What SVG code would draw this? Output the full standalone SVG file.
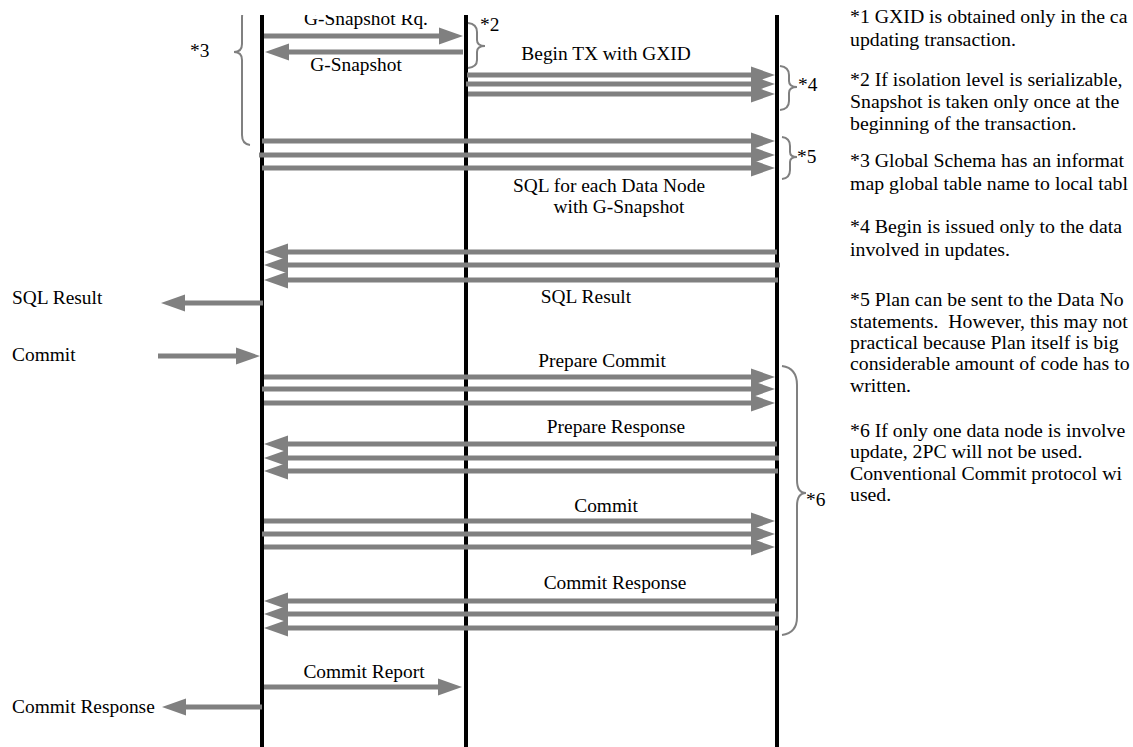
<svg xmlns="http://www.w3.org/2000/svg" width="1133" height="747" viewBox="0 0 1133 747">
<style>
.t{font-family:"Liberation Serif","Times New Roman",serif;font-size:19.4px;fill:#000}
.n{font-family:"Liberation Serif","Times New Roman",serif;font-size:19.8px;fill:#000}
.m{text-anchor:middle}
.ll{stroke:#000;stroke-width:4}
.a{stroke:#808080;stroke-width:5;fill:none;marker-end:url(#ah)}
.b{stroke:#808080;stroke-width:2;fill:none}
</style>
<defs>
<marker id="ah" markerUnits="userSpaceOnUse" markerWidth="24" markerHeight="17" refX="2" refY="8.5" orient="auto" viewBox="0 0 24 17" overflow="visible">
<path d="M0,0 L24,8.5 L0,17 z" fill="#808080"/>
</marker>
<clipPath id="cd"><rect x="0" y="15" width="1133" height="732"/></clipPath>
<clipPath id="cn"><rect x="0" y="9" width="1133" height="738"/></clipPath>
</defs>
<rect width="1133" height="747" fill="#fff"/>
<g clip-path="url(#cd)">
<g id="lifeline-coordinator"><line class="ll" x1="262" y1="0" x2="262" y2="747"/></g>
<g id="lifeline-gtm"><line class="ll" x1="466" y1="0" x2="466" y2="747"/></g>
<g id="lifeline-datanodes"><line class="ll" x1="777" y1="0" x2="777" y2="747"/></g>
<g id="connectors">
<line class="a" x1="264" y1="36" x2="441" y2="36"/>
<line class="a" x1="463" y1="52" x2="287" y2="52"/>
<line class="a" x1="467" y1="75" x2="753" y2="75"/>
<line class="a" x1="466" y1="84" x2="753" y2="84"/>
<line class="a" x1="468" y1="94" x2="753" y2="94"/>
<line class="a" x1="262" y1="141" x2="753" y2="141"/>
<line class="a" x1="259" y1="155" x2="753" y2="155"/>
<line class="a" x1="262" y1="168" x2="753" y2="168"/>
<line class="a" x1="777" y1="252" x2="286" y2="252"/>
<line class="a" x1="780" y1="265" x2="286" y2="265"/>
<line class="a" x1="778" y1="280" x2="286" y2="280"/>
<line class="a" x1="263" y1="303" x2="183" y2="303"/>
<line class="a" x1="158" y1="356" x2="238" y2="356"/>
<line class="a" x1="264" y1="377" x2="753" y2="377"/>
<line class="a" x1="262" y1="389" x2="753" y2="389"/>
<line class="a" x1="264" y1="403" x2="753" y2="403"/>
<line class="a" x1="777" y1="444" x2="286" y2="444"/>
<line class="a" x1="779" y1="458" x2="286" y2="458"/>
<line class="a" x1="778" y1="471" x2="286" y2="471"/>
<line class="a" x1="264" y1="521" x2="753" y2="521"/>
<line class="a" x1="262" y1="534" x2="753" y2="534"/>
<line class="a" x1="264" y1="547" x2="753" y2="547"/>
<line class="a" x1="777" y1="601" x2="286" y2="601"/>
<line class="a" x1="779" y1="614" x2="286" y2="614"/>
<line class="a" x1="778" y1="628" x2="286" y2="628"/>
<line class="a" x1="264" y1="687" x2="440" y2="687"/>
<line class="a" x1="262" y1="707" x2="184" y2="707"/>
</g>
<g id="labels">
<text class="t m" x="366" y="25">G-Snapshot Rq.</text>
<text class="t m" x="356" y="71">G-Snapshot</text>
<text class="t m" x="606" y="60">Begin TX with GXID</text>
<text class="t m" x="609" y="192">SQL for each Data Node</text>
<text class="t m" x="619" y="213">with G-Snapshot</text>
<text class="t m" x="586" y="303">SQL Result</text>
<text class="t" x="12" y="304">SQL Result</text>
<text class="t" x="12" y="361">Commit</text>
<text class="t m" x="602" y="367">Prepare Commit</text>
<text class="t m" x="616" y="433">Prepare Response</text>
<text class="t m" x="606" y="512">Commit</text>
<text class="t m" x="615" y="589">Commit Response</text>
<text class="t m" x="364" y="678">Commit Report</text>
<text class="t" x="12" y="713">Commit Response</text>
</g>
<g id="brace-3">
<path class="b" d="M250,4 Q242,6 242,18 L242,44 Q242,52 234,52 Q242,52 242,60 L242,135 Q242,144 250,145"/>
<text class="t" x="190" y="57">*3</text>
</g>
<g id="brace-2">
<path class="b" d="M468,23 Q477,24 477,32 L477,40 Q477,46 485,46 Q477,46 477,52 L477,60 Q477,67 468,68"/>
<text class="t" x="480" y="31">*2</text>
</g>
<g id="brace-4">
<path class="b" d="M780,66 Q789,67 789,75 L789,81 Q789,87 797,87 Q789,87 789,93 L789,101 Q789,109 780,110"/>
<text class="t" x="798" y="91">*4</text>
</g>
<g id="brace-5">
<path class="b" d="M782,137 Q790,138 790,146 L790,152 Q790,157 797,157 Q790,157 790,162 L790,170 Q790,178 782,179"/>
<text class="t" x="797" y="163">*5</text>
</g>
<g id="brace-6">
<path class="b" d="M782,366 Q797,368 797,385 L797,480 Q797,493 806,493 Q797,493 797,506 L797,617 Q797,633 782,635"/>
<text class="t" x="806" y="506">*6</text>
</g>
</g>
<g id="notes" clip-path="url(#cn)">
<text class="n" x="850" y="23">*1 GXID is obtained only in the ca</text>
<text class="n" x="850" y="46">updating transaction.</text>
<text class="n" x="850" y="86">*2 If isolation level is serializable,</text>
<text class="n" x="850" y="108">Snapshot is taken only once at the</text>
<text class="n" x="850" y="130">beginning of the transaction.</text>
<text class="n" x="850" y="167">*3 Global Schema has an informat</text>
<text class="n" x="850" y="190">map global table name to local tabl</text>
<text class="n" x="850" y="233">*4 Begin is issued only to the data</text>
<text class="n" x="850" y="256">involved in updates.</text>
<text class="n" x="850" y="306">*5 Plan can be sent to the Data No</text>
<text class="n" x="850" y="328" xml:space="preserve">statements.  However, this may not</text>
<text class="n" x="850" y="349">practical because Plan itself is big</text>
<text class="n" x="850" y="370">considerable amount of code has to</text>
<text class="n" x="850" y="392">written.</text>
<text class="n" x="850" y="437">*6 If only one data node is involve</text>
<text class="n" x="850" y="458">update, 2PC will not be used.</text>
<text class="n" x="850" y="480">Conventional Commit protocol wi</text>
<text class="n" x="850" y="501">used.</text>
</g>
</svg>
